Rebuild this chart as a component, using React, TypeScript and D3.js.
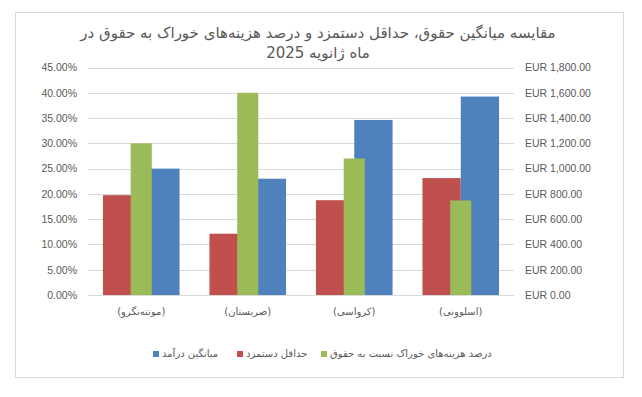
import React, { useRef, useEffect } from "react";
import * as d3 from "d3";

// countries, left to right
const countries = ["(مونته‌نگرو)", "(صربستان)", "(کرواسی)", "(اسلوونی)"];
// EUR, right axis
const minWage = [790, 485, 750, 925];
const avgIncome = [1000, 920, 1385, 1570];
// percent, left axis
const foodShare = [0.3, 0.4, 0.27, 0.187];

const leftTicks = [0, 0.05, 0.1, 0.15, 0.2, 0.25, 0.3, 0.35, 0.4, 0.45];
const rightTicks = [0, 200, 400, 600, 800, 1000, 1200, 1400, 1600, 1800];

const titleLines = [
  "مقایسه میانگین حقوق، حداقل دستمزد و درصد هزینه‌های خوراک به حقوق در",
  "ماه ژانویه 2025",
];
const legendLabels = ["میانگین درآمد", "حداقل دستمزد", "درصد هزینه‌های خوراک نسبت به حقوق"];

const BLUE = "#4F81BD";
const RED = "#C0504D";
const GREEN = "#9BBB59";

const Chart = () => {
  const svgRef = useRef(null);

  useEffect(() => {
    const svg = d3.select(svgRef.current);
    svg.selectAll("*").remove();
    const width = 642;
    const height = 397;
    const plot = { left: 88, right: 514, top: 67.5, bottom: 295 };
    const latin = "'Liberation Sans', Arial, sans-serif";
    const persian = "'DejaVu Sans', sans-serif";

    svg.attr("width", width).attr("height", height);

    svg
      .append("rect")
      .attr("x", 15.5)
      .attr("y", 12.5)
      .attr("width", 608)
      .attr("height", 365)
      .attr("fill", "#fff")
      .attr("stroke", "#d9d9d9");

    const x = d3.scaleBand().domain(countries).range([plot.left, plot.right]);
    const inner = d3
      .scaleBand()
      .domain(["min", "avg"])
      .range([0, x.bandwidth()])
      .paddingOuter(0.39);
    const innerGreen = d3
      .scaleBand()
      .domain(["food"])
      .range([0, x.bandwidth()])
      .paddingOuter(2.03);

    const yLeft = d3.scaleLinear().domain([0, 0.45]).range([plot.bottom, plot.top]);
    const yRight = d3.scaleLinear().domain([0, 1800]).range([plot.bottom, plot.top]);

    // gridlines
    svg
      .append("g")
      .selectAll("line")
      .data(leftTicks)
      .join("line")
      .attr("x1", plot.left)
      .attr("x2", plot.right)
      .attr("y1", (d) => Math.round(yLeft(d)) + 0.5)
      .attr("y2", (d) => Math.round(yLeft(d)) + 0.5)
      .attr("stroke", "#d9d9d9");

    const pct = d3.format(".2%");
    svg
      .append("g")
      .selectAll("text")
      .data(leftTicks)
      .join("text")
      .attr("x", 77)
      .attr("y", (d) => yLeft(d) + 3.8)
      .attr("text-anchor", "end")
      .style("font-family", latin)
      .style("font-size", "10.5px")
      .style("fill", "#595959")
      .text((d) => pct(d));

    const eur = d3.format(",.2f");
    svg
      .append("g")
      .selectAll("text")
      .data(rightTicks)
      .join("text")
      .attr("x", 525)
      .attr("y", (d) => yRight(d) + 3.8)
      .style("font-family", latin)
      .style("font-size", "10.5px")
      .style("fill", "#595959")
      .text((d) => "EUR " + eur(d));

    // secondary axis bars (EUR)
    const groups = svg
      .append("g")
      .selectAll("g")
      .data(countries)
      .join("g")
      .attr("transform", (d) => `translate(${x(d)},0)`);

    groups
      .append("rect")
      .attr("x", inner("min"))
      .attr("width", inner.bandwidth())
      .attr("y", (d, i) => yRight(minWage[i]))
      .attr("height", (d, i) => plot.bottom - yRight(minWage[i]))
      .attr("fill", RED);

    groups
      .append("rect")
      .attr("x", inner("avg"))
      .attr("width", inner.bandwidth())
      .attr("y", (d, i) => yRight(avgIncome[i]))
      .attr("height", (d, i) => plot.bottom - yRight(avgIncome[i]))
      .attr("fill", BLUE);

    // primary axis bars (%) drawn on top
    groups
      .append("rect")
      .attr("x", innerGreen("food"))
      .attr("width", innerGreen.bandwidth())
      .attr("y", (d, i) => yLeft(foodShare[i]))
      .attr("height", (d, i) => plot.bottom - yLeft(foodShare[i]))
      .attr("fill", GREEN);

    // category labels
    svg
      .append("g")
      .selectAll("text")
      .data(countries)
      .join("text")
      .attr("x", (d) => x(d) + x.bandwidth() / 2)
      .attr("y", 315)
      .attr("text-anchor", "middle")
      .attr("direction", "rtl")
      .style("font-family", persian)
      .style("font-size", "10px")
      .style("fill", "#595959")
      .text((d) => d);

    // title
    svg
      .append("g")
      .selectAll("text")
      .data(titleLines)
      .join("text")
      .attr("x", 318)
      .attr("y", (d, i) => 38 + i * 20)
      .attr("text-anchor", "middle")
      .attr("direction", "rtl")
      .style("font-family", persian)
      .style("font-size", "15px")
      .style("fill", "#595959")
      .text((d) => d);

    // legend
    const legendColors = [BLUE, RED, GREEN];
    const legendX = [153, 237, 321];
    const legend = svg
      .append("g")
      .selectAll("g")
      .data(legendLabels)
      .join("g")
      .attr("transform", (d, i) => `translate(${legendX[i]},357)`);

    legend
      .append("rect")
      .attr("x", 0)
      .attr("y", -6)
      .attr("width", 6)
      .attr("height", 6)
      .attr("fill", (d, i) => legendColors[i]);

    legend
      .append("text")
      .attr("x", 9)
      .attr("y", 0)
      .style("font-family", persian)
      .style("font-size", "10px")
      .style("fill", "#595959")
      .text((d) => d);
  }, []);

  return <svg ref={svgRef} style={{ display: "block" }}></svg>;
};

export default function App() {
  return (
    <div style={{ margin: -8 }}>
      <Chart />
    </div>
  );
}
